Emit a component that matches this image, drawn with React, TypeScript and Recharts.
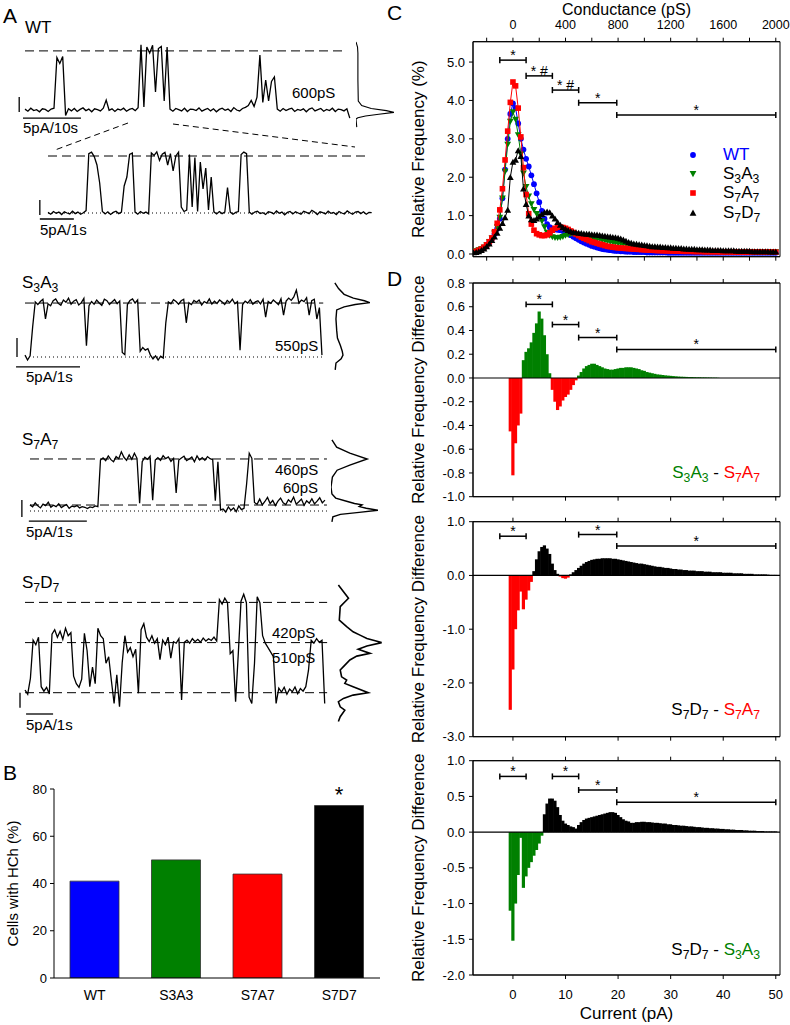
import React from "react";
import {
  LineChart,
  Line,
  XAxis,
  YAxis,
  ReferenceLine,
  ReferenceArea,
  ScatterChart,
  Scatter,
  ComposedChart,
  Bar,
  BarChart,
  Cell,
  LabelList,
} from "recharts";

const FONT = '"Liberation Sans", Arial, Helvetica, sans-serif';
const BLUE = "#0000ff";
const GREEN = "#008000";
const RED = "#ff0000";
const INK = "#000000";

// ---------- A: single-channel traces (pA), sampled every *_DT seconds ----------
const WT_DT = 0.5;
const WT_TRACE = [
  0.3, -0.4, 0.6, -0.2, 0.1, -0.6, 0.4, 0.2, -0.5, 0.3,
  0.6, 17.5, 15.5, 17.8, -1.8, 0.4,
  -0.3, 0.5, -0.5, 0.2, 0.7, -0.2, 0.3, -0.6, 0.4, 0.1, -0.3, 0.6,
  3.3,
  -0.1, 0.4, -0.5, 0.3, 0.0, 0.6, -0.4, 0.2, 0.5, -0.2, 0.8,
  21.7, 1.0, 21.0, 19.0, 21.6, 6.0, 20.5, 21.2, 3.0, 21.0, 0.3,
  -0.4, 0.5, 0.1, -0.3, 0.6, -0.5, 0.3, 0.2, -0.2, 0.7, -0.4, 0.1, 0.5,
  -0.3, 0.4, -0.6, 0.2, 0.6, -0.1, 0.3, -0.5, 0.8, 0.0, -0.3, 0.5, 0.9,
  1.5, 3.2, 1.2, 4.3, 18.3, 2.5, 10.0, 3.0, 9.5, 11.0, 0.3,
  -0.4, 0.5, -0.2, 0.3, 0.6, -0.5, 0.2, -0.1, 0.4, -0.6, 0.3, 0.7,
  -0.3, 0.1, 0.5, -0.4, 0.2, -0.2, 0.6, -0.5, 0.3, 0.1, -0.3, 0.4,
  -2.7,
];

const WTZ_DT = 0.08;
const WTZ_TRACE = [
  0.2, -0.4, 0.5, -0.1, 0.3, -0.5, 0.4, 0.0, -0.3, 0.6, -0.2, 0.3, -0.4, 0.1, 0.8,
  19.8, 20.3, 18.8, 16.0, 10.0, 0.5,
  -0.3, 0.4, -0.5, 0.2, 0.6, -0.2, 0.3,
  9.0, 12.0, 19.5, 20.0, 0.3,
  -0.4, 0.5, -0.1, 0.3, -0.3,
  20.0, 19.2, 20.4, 17.5, 19.6, 20.2, 16.0, 19.8, 14.0, 19.0, 20.3,
  2.0, 0.5, 1.0,
  19.5, 2.0, 18.5, 0.5, 17.0, 8.0, 15.0, 1.0, 12.0, 0.4,
  -0.3, 0.5, -0.2, 0.3,
  8.5, 0.3,
  -0.4, 0.2, 0.5,
  19.5, 20.3, 19.8, 0.3,
  -0.4, 0.3, 0.6, -0.2, 0.1, -0.5, 0.4, 0.2, -0.3, 0.7, -0.1, 0.3, -0.6, 0.2, 0.5,
  -0.3, 0.4, 0.0, -0.4, 0.6, 0.2, -0.2, 0.9, 0.3, -0.5, 0.4, 0.1, -0.3, 0.6, -0.1,
  0.2, -0.5, 0.5, 0.0, -0.3, 0.7, 0.1, -0.4, 0.3, 0.5, -0.2, 0.4, -0.4, 0.2, 0.1,
];

const S3A3_DT = 0.04;
const S3A3_TRACE = [
  0.5, -0.8, 0.3,
  8.0, 14.5,
  13.8, 14.6, 15.2, 10.0, 14.0, 13.5, 14.8, 15.3, 14.1, 13.6, 15.0, 14.4, 15.5, 13.9, 14.7, 15.1, 13.7, 14.3, 15.4,
  3.0, 13.5,
  14.6, 13.9, 15.0, 14.2, 13.6, 15.2, 14.8, 13.8, 14.5, 15.1, 14.0, 14.7,
  1.2, 0.6, 13.8,
  14.9, 15.3, 14.2, 15.0,
  1.5, 2.5, 1.8, 2.2, 0.5, -0.5, 0.3, -0.8, 0.2, -0.3,
  9.0, 14.5,
  14.0, 15.1, 14.6, 13.9, 14.8, 15.2, 9.0, 14.3, 13.8, 14.9, 14.4, 15.0, 13.7, 14.6,
  14.2, 15.3, 13.9, 14.7, 14.1, 15.0, 14.5, 13.8, 14.9, 14.3, 15.2, 14.0, 14.6,
  1.8, 13.8,
  14.7, 14.2, 15.1, 13.9, 14.5, 14.8, 14.0, 15.2, 10.5, 14.6, 14.1, 15.0, 14.4, 13.8, 15.3,
  11.0, 14.7, 15.5, 14.9, 15.8, 17.6, 14.2, 15.0, 14.6, 15.6, 11.0, 14.8, 15.2, 10.0, 13.0,
  0.5,
];

const S7A7_DT = 0.045;
const S7A7_TRACE = [
  1.8, 1.2, 2.4, 1.5, 0.9, 2.0, 1.6, 2.6, 1.1, 1.7, 1.3, 2.1, 1.0, 1.5,
  1.9, 0.8, 1.4, 1.2, 1.6, 0.9, 1.3, 1.1, 0.7, 1.2, 1.0, 1.5, 1.3,
  15.0,
  15.6, 14.8, 16.2, 15.1, 14.5, 16.0, 15.4, 17.4, 15.8, 14.9, 16.5, 15.2, 17.0, 15.5,
  2.3, 14.5,
  15.8, 15.2, 16.1,
  3.2, 15.0,
  15.7, 14.9, 16.3, 15.4, 15.9, 14.6, 15.5,
  5.3, 15.0,
  15.6, 16.1, 14.8, 15.3, 15.9, 14.5, 16.2, 15.0, 15.7, 14.9, 16.0, 15.4, 15.1,
  3.0, 14.5, 0.3,
  0.6, -0.3, 1.2, 0.2, 0.9, -0.2, 1.5, 0.4, 0.8,
  8.0, 17.0, 15.5, 2.5,
  2.0, 3.5, 1.8, 2.8, 4.0, 2.2, 3.1, 1.6, 2.9, 3.8, 2.4, 1.9, 3.3, 2.6,
  4.1, 2.0, 2.7, 3.5, 1.7, 3.0, 2.3, 3.6, 2.1, 2.9, 3.9, 2.4, 3.2,
];

const S7D7_DT = 0.1;
const S7D7_TRACE = [
  0.9, -0.5, 4.8, 17.5, 16.0, 18.5, 2.0, 0.5, 1.8, -0.4,
  19.5, 21.0, 18.5, 20.5, 17.8, 21.5, 19.0, 20.0, 5.5, 3.0,
  1.8, 4.5, 19.8, 14.0, 2.0, 8.5, 3.0, 21.5, 19.0, 18.0,
  9.8, 12.0, 4.0, -3.6, 6.0, -4.7, 10.0, 19.0, 13.5, 15.0,
  12.0, 14.5, -0.2, 21.0, 23.0, 18.5, 17.0, 19.0, 16.5, 18.0,
  11.0, 17.5, 16.0, 18.5, 11.5, 17.0, 16.5, 18.0, -2.4, 16.8,
  17.5, 16.5, 18.0, 17.0, 17.8, 16.8, 18.2, 17.2, 18.0, 17.4,
  18.5, 17.2, 31.0, 29.5, 31.5, 30.0, 13.0, 14.0, -3.0, 13.0,
  30.5, 32.8, 30.0, -1.5, -3.6, 9.8, 32.0, 30.0, 19.0, 16.5,
  15.0, 13.5, 12.0, -3.6, 1.5, 0.2, 1.8, -0.5, 1.2, 0.3,
  1.9, -0.3, 1.4, 0.5, 2.0, 7.5, 17.5, 16.5, 18.0, 16.8,
  17.5, -3.6,
];

// dashed / dotted current levels (pA) for each trace
const WT_LEVELS = [19.7];
const WTZ_LEVELS = [19];
const S3A3_LEVELS = [14.2];
const S7A7_LEVELS = [15.3, 1.76];
const S7D7_LEVELS = [30.1, 16.7, 0];

// all-points histograms: current level (pA) and relative count
const WT_HIST_LEVEL = [22.7, 21, 19, 10, 3, 1.5, 0.5, -0.2, -0.8, -1.4, -2, -2.6, -3, -5.7];
const WT_HIST_COUNT = [0.0, 0.04, 0.05, 0.05, 0.06, 0.15, 0.4, 0.8, 1.0, 0.6, 0.25, 0.05, 0.0, 0.02];
const S3A3_HIST_LEVEL = [19.5, 18, 16.5, 15.5, 14.8, 14.3, 13.8, 13.2, 12.4, 10, 7, 5, 3, 1.5, 0.5, -0.5, -1.6, -3.4];
const S3A3_HIST_COUNT = [0.05, 0.15, 0.3, 0.55, 0.85, 1.0, 0.6, 0.3, 0.1, 0.08, 0.1, 0.12, 0.2, 0.25, 0.27, 0.22, 0.08, 0.06];
const S7A7_HIST_LEVEL = [20.9, 18.8, 17, 15.3, 13.5, 12, 10, 7, 5, 3.8, 2.8, 2.2, 1.8, 1.3, 0.8, 0.2, -0.4, -1, -1.7, -3.2];
const S7A7_HIST_COUNT = [0.02, 0.12, 0.4, 0.77, 0.4, 0.13, 0.03, 0.0, 0.02, 0.1, 0.35, 0.5, 0.66, 0.6, 0.75, 1.0, 0.6, 0.2, 0.04, 0.02];
const S7D7_HIST_LEVEL = [
  35.9, 31.5, 28.7, 24.2, 22, 20.3, 19.2, 18.1, 16.7, 15.6, 14.5, 13.1, 12.2, 10.9,
  8.7, 7.6, 5.3, 4.2, 3.1, 2.0, 0, -0.8, -1.9, -3.0, -4.7, -5.8, -8, -9.6,
];
const S7D7_HIST_COUNT = [
  0.03, 0.25, 0.07, 0.05, 0.21, 0.35, 0.5, 0.65, 0.97, 0.65, 0.46, 0.72, 0.43, 0.28,
  0.14, 0.07, 0.1, 0.21, 0.17, 0.35, 0.68, 0.35, 0.14, 0.03, 0.07, 0.17, 0.07, 0.03,
];

// ---------- B: cells with hemichannels ----------
const B_GROUPS = ["WT", "S3A3", "S7A7", "S7D7"];
const B_PCT = [41, 50, 44, 73];
const B_SIG = ["", "", "", "*"];
const B_COLORS = [BLUE, GREEN, RED, INK];

// ---------- C / D: amplitude histograms, 0.5 pA bins ----------
const CURRENT = [
  -7.5, -7, -6.5, -6, -5.5, -5, -4.5, -4, -3.5, -3,
  -2.5, -2, -1.5, -1, -0.5, 0, 0.5, 1, 1.5, 2,
  2.5, 3, 3.5, 4, 4.5, 5, 5.5, 6, 6.5, 7,
  7.5, 8, 8.5, 9, 9.5, 10, 10.5, 11, 11.5, 12,
  12.5, 13, 13.5, 14, 14.5, 15, 15.5, 16, 16.5, 17,
  17.5, 18, 18.5, 19, 19.5, 20, 20.5, 21, 21.5, 22,
  22.5, 23, 23.5, 24, 24.5, 25, 25.5, 26, 26.5, 27,
  27.5, 28, 28.5, 29, 29.5, 30, 30.5, 31, 31.5, 32,
  32.5, 33, 33.5, 34, 34.5, 35, 35.5, 36, 36.5, 37,
  37.5, 38, 38.5, 39, 39.5, 40, 40.5, 41, 41.5, 42,
  42.5, 43, 43.5, 44, 44.5, 45, 45.5, 46, 46.5, 47,
  47.5, 48, 48.5, 49, 49.5, 50,
];

const WT_FREQ = [
  0.05, 0.07, 0.09, 0.12, 0.16, 0.22, 0.3, 0.4, 0.52, 0.66,
  0.92, 1.45, 2.2, 3.0, 3.65, 3.92, 3.8, 3.4, 3.0, 2.72,
  2.48, 2.28, 2.05, 1.82, 1.58, 1.35, 1.12, 0.92, 0.78, 0.7,
  0.66, 0.64, 0.63, 0.62, 0.6, 0.57, 0.53, 0.49, 0.45, 0.41,
  0.37, 0.33, 0.3, 0.27, 0.24, 0.21, 0.19, 0.17, 0.15, 0.13,
  0.12, 0.11, 0.1, 0.09, 0.08, 0.08, 0.07, 0.07, 0.06, 0.06,
  0.06, 0.05, 0.05, 0.05, 0.05, 0.05, 0.04, 0.04, 0.04, 0.04,
  0.04, 0.04, 0.04, 0.04, 0.03, 0.03, 0.03, 0.03, 0.03, 0.03,
  0.03, 0.03, 0.03, 0.03, 0.03, 0.03, 0.03, 0.03, 0.03, 0.03,
  0.03, 0.03, 0.03, 0.03, 0.03, 0.03, 0.03, 0.03, 0.03, 0.03,
  0.03, 0.03, 0.03, 0.03, 0.03, 0.03, 0.03, 0.03, 0.03, 0.03,
  0.03, 0.03, 0.03, 0.03, 0.03, 0.03,
];
const S3A3_FREQ = [
  0.06, 0.08, 0.1, 0.13, 0.17, 0.23, 0.31, 0.41, 0.54, 0.7,
  0.95, 1.45, 2.15, 2.85, 3.45, 3.7, 3.5, 3.1, 2.6, 2.1,
  1.75, 1.5, 1.3, 1.15, 1.05, 0.98, 0.86, 0.7, 0.56, 0.48,
  0.44, 0.42, 0.42, 0.43, 0.45, 0.48, 0.5, 0.52, 0.52, 0.5,
  0.48, 0.46, 0.45, 0.43, 0.42, 0.41, 0.4, 0.39, 0.38, 0.36,
  0.35, 0.33, 0.32, 0.3, 0.29, 0.28, 0.27, 0.26, 0.25, 0.23,
  0.22, 0.21, 0.2, 0.19, 0.18, 0.17, 0.16, 0.15, 0.14, 0.14,
  0.13, 0.12, 0.12, 0.11, 0.11, 0.1, 0.1, 0.09, 0.09, 0.09,
  0.08, 0.08, 0.08, 0.07, 0.07, 0.07, 0.07, 0.07, 0.06, 0.06,
  0.06, 0.06, 0.06, 0.06, 0.06, 0.05, 0.05, 0.05, 0.05, 0.05,
  0.05, 0.05, 0.05, 0.05, 0.05, 0.05, 0.05, 0.05, 0.05, 0.05,
  0.05, 0.05, 0.05, 0.05, 0.05, 0.05,
];
const S7A7_FREQ = [
  0.05, 0.07, 0.1, 0.13, 0.18, 0.24, 0.32, 0.42, 0.58, 0.8,
  1.15, 1.7, 2.45, 3.2, 3.95, 4.48, 4.38, 3.8, 3.05, 2.25,
  1.55, 1.05, 0.78, 0.62, 0.53, 0.5, 0.48, 0.48, 0.5, 0.55,
  0.62, 0.67, 0.7, 0.7, 0.69, 0.67, 0.64, 0.6, 0.56, 0.52,
  0.48, 0.44, 0.41, 0.38, 0.35, 0.32, 0.3, 0.28, 0.26, 0.24,
  0.22, 0.2, 0.19, 0.18, 0.17, 0.16, 0.155, 0.15, 0.145, 0.14,
  0.135, 0.13, 0.125, 0.12, 0.115, 0.11, 0.105, 0.1, 0.1, 0.095,
  0.09, 0.09, 0.085, 0.085, 0.08, 0.08, 0.08, 0.075, 0.075, 0.075,
  0.07, 0.07, 0.07, 0.07, 0.065, 0.065, 0.065, 0.065, 0.06, 0.06,
  0.06, 0.06, 0.06, 0.06, 0.055, 0.055, 0.055, 0.055, 0.055, 0.05,
  0.05, 0.05, 0.05, 0.05, 0.05, 0.05, 0.05, 0.05, 0.05, 0.05,
  0.05, 0.05, 0.05, 0.05, 0.05, 0.05,
];
const S7D7_FREQ = [
  0.04, 0.05, 0.07, 0.1, 0.14, 0.2, 0.27, 0.36, 0.45, 0.55,
  0.68, 0.8, 0.95, 1.15, 2.0, 2.4, 2.45, 2.7, 2.55, 1.7,
  1.3, 1.0, 0.9, 0.88, 0.92, 0.98, 1.04, 1.08, 1.1, 1.08,
  1.0, 0.92, 0.83, 0.76, 0.7, 0.65, 0.62, 0.59, 0.57, 0.56,
  0.55, 0.54, 0.53, 0.52, 0.52, 0.51, 0.5, 0.5, 0.49, 0.48,
  0.47, 0.46, 0.45, 0.44, 0.43, 0.42, 0.4, 0.37, 0.34, 0.31,
  0.29, 0.27, 0.26, 0.25, 0.24, 0.23, 0.22, 0.21, 0.2, 0.2,
  0.19, 0.19, 0.18, 0.18, 0.17, 0.17, 0.16, 0.16, 0.15, 0.15,
  0.14, 0.14, 0.13, 0.13, 0.13, 0.12, 0.12, 0.12, 0.11, 0.11,
  0.11, 0.1, 0.1, 0.1, 0.1, 0.09, 0.09, 0.09, 0.09, 0.09,
  0.08, 0.08, 0.08, 0.08, 0.08, 0.08, 0.07, 0.07, 0.07, 0.07,
  0.07, 0.07, 0.07, 0.06, 0.06, 0.06,
];

const DIFF_S3A3_S7A7 = [
  0, 0, 0, 0, 0, 0, 0, 0, 0, 0,
  0, 0, 0, 0, -0.45, -0.82, -0.55, -0.4, -0.3, 0.15,
  0.22, 0.25, 0.3, 0.38, 0.46, 0.56, 0.5, 0.36, 0.2, 0.04,
  -0.1, -0.2, -0.27, -0.24, -0.19, -0.16, -0.14, -0.1, -0.06, -0.02,
  0.02, 0.05, 0.08, 0.1, 0.11, 0.12, 0.12, 0.11, 0.1, 0.09,
  0.08, 0.075, 0.07, 0.07, 0.075, 0.08, 0.085, 0.085, 0.09, 0.09,
  0.09, 0.085, 0.08, 0.075, 0.065, 0.06, 0.05, 0.045, 0.04, 0.035,
  0.03, 0.028, 0.025, 0.022, 0.02, 0.018, 0.016, 0.014, 0.012, 0.011,
  0.01, 0.009, 0.008, 0.008, 0.007, 0.006, 0.006, 0.005, 0.005, 0.004,
  0.004, 0.003, 0.003, 0.002, 0, 0, 0, 0, 0, 0,
  0, 0, 0, 0, 0, 0, 0, 0, 0, 0,
  0, 0, 0, 0, 0, 0,
];
const DIFF_S7D7_S7A7 = [
  0, 0, 0, 0, 0, 0, 0, 0, 0, 0,
  0, 0, 0, 0, -2.5, -1.75, -1.0, -0.65, -0.3, -0.63,
  -0.45, -0.28, -0.12, 0.08, 0.3, 0.45, 0.53, 0.56, 0.5, 0.4,
  0.22, 0.1, 0.03, -0.02, -0.05, -0.06, -0.04, 0.02, 0.06, 0.1,
  0.14, 0.18, 0.22, 0.25, 0.27, 0.29, 0.3, 0.31, 0.31, 0.32,
  0.32, 0.32, 0.32, 0.31, 0.31, 0.3, 0.29, 0.28, 0.27, 0.26,
  0.25, 0.24, 0.23, 0.22, 0.22, 0.21, 0.2, 0.19, 0.18, 0.17,
  0.16, 0.16, 0.15, 0.14, 0.14, 0.13, 0.12, 0.12, 0.11, 0.11,
  0.1, 0.1, 0.09, 0.09, 0.09, 0.08, 0.08, 0.08, 0.07, 0.07,
  0.07, 0.06, 0.06, 0.06, 0.06, 0.05, 0.05, 0.05, 0.05, 0.04,
  0.04, 0.04, 0.04, 0.03, 0.03, 0.03, 0.03, 0.02, 0.02, 0.02,
  0.02, 0.02, 0.015, 0.01, 0.01, 0.01,
];
const DIFF_S7D7_S3A3 = [
  0, 0, 0, 0, 0, 0, 0, 0, 0, 0,
  0, 0, 0, 0, -1.1, -1.52, -1.0, -0.6, -0.08, -0.78,
  -0.62, -0.5, -0.42, -0.33, -0.25, -0.16, -0.05, 0.25, 0.4, 0.47,
  0.47, 0.44, 0.35, 0.24, 0.16, 0.12, 0.1, 0.08, 0.07, 0.05,
  0.1, 0.14, 0.17, 0.19, 0.2, 0.21, 0.22, 0.23, 0.24, 0.25,
  0.26, 0.27, 0.28, 0.28, 0.27, 0.24, 0.21, 0.18, 0.16, 0.15,
  0.13, 0.13, 0.14, 0.14, 0.145, 0.145, 0.14, 0.14, 0.135, 0.13,
  0.13, 0.125, 0.12, 0.12, 0.11, 0.11, 0.1, 0.1, 0.095, 0.09,
  0.09, 0.085, 0.08, 0.08, 0.075, 0.07, 0.07, 0.065, 0.06, 0.06,
  0.055, 0.055, 0.05, 0.05, 0.045, 0.045, 0.04, 0.04, 0.035, 0.035,
  0.03, 0.03, 0.03, 0.025, 0.025, 0.02, 0.02, 0.02, 0.015, 0.015,
  0.015, 0.01, 0.01, 0.01, 0.01, 0.01,
];

// significance intervals (pA) with bar height and mark, per panel
const SIG_RANGES: [number, number][] = [[-2.5, 2.5], [2.5, 7.5], [7.5, 12.5], [12.5, 19.75], [19.75, 50]];
const C_SIG = [
  { r: 0, h: 5.05, mark: "*" },
  { r: 1, h: 4.64, mark: "*  #" },
  { r: 2, h: 4.27, mark: "*  #" },
  { r: 3, h: 3.94, mark: "*" },
  { r: 4, h: 3.62, mark: "*" },
];
const D1_SIG = [
  { r: 1, h: 0.62, mark: "*" },
  { r: 2, h: 0.45, mark: "*" },
  { r: 3, h: 0.34, mark: "*" },
  { r: 4, h: 0.24, mark: "*" },
];
const D2_SIG = [
  { r: 0, h: 0.73, mark: "*" },
  { r: 3, h: 0.76, mark: "*" },
  { r: 4, h: 0.55, mark: "*" },
];
const D3_SIG = [
  { r: 0, h: 0.78, mark: "*" },
  { r: 2, h: 0.78, mark: "*" },
  { r: 3, h: 0.59, mark: "*" },
  { r: 4, h: 0.42, mark: "*" },
];

const X_DOMAIN: [number, number] = [-7.6, 50.8];
const PS_PER_PA = 40;

type Layout = { left: number; right: number; top: number; bottom: number; t0: number; pxs: number; y0: number; pxa: number };
const WT_LAYOUT: Layout = { left: 15, right: 352, top: 38, bottom: 134, t0: 25, pxs: 5.8, y0: 110, pxa: 3 };
const WTZ_LAYOUT: Layout = { left: 36, right: 375, top: 145, bottom: 225, t0: 48, pxs: 34, y0: 213, pxa: 3 };
const S3A3_LAYOUT: Layout = { left: 12, right: 326, top: 280, bottom: 372, t0: 25, pxs: 64, y0: 357, pxa: 3.8 };
const S7A7_LAYOUT: Layout = { left: 18, right: 330, top: 437, bottom: 525, t0: 30, pxs: 58, y0: 511, pxa: 3.4 };
const S7D7_LAYOUT: Layout = { left: 16, right: 328, top: 582, bottom: 722, t0: 25, pxs: 27, y0: 692.7, pxa: 3 };

const domainsOf = (l: Layout) => ({
  x: [(l.left - l.t0) / l.pxs, (l.right - l.t0) / l.pxs] as [number, number],
  y: [(l.y0 - l.bottom) / l.pxa, (l.y0 - l.top) / l.pxa] as [number, number],
});

const NO_MARGIN = { top: 0, right: 0, bottom: 0, left: 0 };

type Bar5 = { t: number; y: number };
function Trace(props: {
  lay: Layout;
  values: number[];
  dt: number;
  dashed: number[];
  dotted?: number[];
  tEnd: number;
  dotFrom?: number;
  vBar: Bar5;
  hBar: Bar5 & { len: number };
}) {
  const { lay, values, dt, dashed, dotted = [], tEnd, dotFrom = 0, vBar, hBar } = props;
  const d = domainsOf(lay);
  const rows = values.map((v, i) => ({ t: i * dt, v }));
  return (
    <div style={{ position: "absolute", left: lay.left, top: lay.top }}>
      <LineChart width={lay.right - lay.left} height={lay.bottom - lay.top} data={rows} margin={NO_MARGIN}>
        <XAxis type="number" dataKey="t" domain={d.x} hide allowDataOverflow />
        <YAxis type="number" domain={d.y} hide allowDataOverflow />
        {dashed.map((y) => (
          <ReferenceLine key={"d" + y} segment={[{ x: 0, y }, { x: tEnd, y }]} stroke={INK} strokeWidth={1} strokeDasharray="9 5" />
        ))}
        {dotted.map((y) => (
          <ReferenceLine key={"o" + y} segment={[{ x: dotFrom, y }, { x: tEnd, y }]} stroke={INK} strokeWidth={1} strokeDasharray="1 3" />
        ))}
        <ReferenceLine segment={[{ x: vBar.t, y: vBar.y }, { x: vBar.t, y: vBar.y + 5 }]} stroke={INK} strokeWidth={1.3} />
        <ReferenceLine segment={[{ x: hBar.t, y: hBar.y }, { x: hBar.t + hBar.len, y: hBar.y }]} stroke={INK} strokeWidth={1.3} />
        <Line type="linear" dataKey="v" stroke={INK} strokeWidth={1.3} dot={false} isAnimationActive={false} />
      </LineChart>
    </div>
  );
}

function Hist(props: { lay: Layout; left: number; width: number; levels: number[]; counts: number[]; sw: number }) {
  const { lay, left, width, levels, counts, sw } = props;
  const d = domainsOf(lay);
  const rows = levels.map((v, i) => ({ c: counts[i], v }));
  return (
    <div style={{ position: "absolute", left, top: lay.top }}>
      <LineChart width={width} height={lay.bottom - lay.top} data={rows} margin={NO_MARGIN}>
        <XAxis type="number" dataKey="c" domain={[0, 1]} hide allowDataOverflow />
        <YAxis type="number" domain={d.y} hide allowDataOverflow />
        <Line type="linear" dataKey="v" stroke={INK} strokeWidth={sw} dot={false} isAnimationActive={false} />
      </LineChart>
    </div>
  );
}

function Txt(props: { x?: number; right?: number; y: number; size?: number; color?: string; children: React.ReactNode }) {
  const { x, right, y, size = 15, color = INK, children } = props;
  const style: React.CSSProperties = {
    position: "absolute",
    top: y - size * 0.59,
    fontSize: size,
    lineHeight: `${size * 1.2}px`,
    color,
    whiteSpace: "nowrap",
  };
  if (right !== undefined) style.right = 790 - right;
  else style.left = x;
  return <div style={style}>{children}</div>;
}

const Sub = ({ n }: { n: string }) => (
  <span style={{ fontSize: "0.72em", position: "relative", top: "0.32em" }}>{n}</span>
);
const Mut = ({ a, n, b, m }: { a: string; n: string; b: string; m: string }) => (
  <>
    {a}
    <Sub n={n} />
    {b}
    <Sub n={m} />
  </>
);

// scatter symbols
const circleShape = (p: any) => <circle cx={p.cx} cy={p.cy} r={2.9} fill={BLUE} />;
const downShape = (p: any) => (
  <polygon points={`${p.cx - 3.4},${p.cy - 2.8} ${p.cx + 3.4},${p.cy - 2.8} ${p.cx},${p.cy + 3.2}`} fill={GREEN} />
);
const squareShape = (p: any) => <rect x={p.cx - 2.8} y={p.cy - 2.8} width={5.6} height={5.6} fill={RED} />;
const upShape = (p: any) => (
  <polygon points={`${p.cx - 3.4},${p.cy + 2.8} ${p.cx + 3.4},${p.cy + 2.8} ${p.cx},${p.cy - 3.2}`} fill={INK} />
);

// difference bars, drawn slightly wider so neighbouring bins touch
const binShape = (p: any) => {
  const h = p.height || 0;
  const y = h < 0 ? p.y + h : p.y;
  return <rect x={p.x - 0.35} y={y} width={(p.width || 0) + 0.7} height={Math.abs(h)} fill={p.fill} />;
};

const sigMarks = (list: { r: number; h: number; mark: string }[], cap: number) =>
  list.flatMap((s, i) => {
    const [lo, hi] = SIG_RANGES[s.r];
    return [
      <ReferenceLine
        key={"h" + i}
        segment={[{ x: lo, y: s.h }, { x: hi, y: s.h }]}
        stroke={INK}
        strokeWidth={1.5}
        label={{ value: s.mark, position: "top", offset: 0, fontSize: 14, fill: INK, style: { whiteSpace: "pre" } }}
      />,
      <ReferenceLine key={"l" + i} segment={[{ x: lo, y: s.h - cap }, { x: lo, y: s.h + cap }]} stroke={INK} strokeWidth={1.5} />,
      <ReferenceLine key={"r" + i} segment={[{ x: hi, y: s.h - cap }, { x: hi, y: s.h + cap }]} stroke={INK} strokeWidth={1.5} />,
    ];
  });

const axisText = { fontSize: 13, fill: INK };
const yLabel = (value: string, offset: number, size = 17) => ({
  value,
  angle: -90,
  position: "insideLeft" as const,
  offset,
  style: { textAnchor: "middle" as const, fontSize: size, fill: INK },
});

function DiffPanel(props: {
  top: number;
  height: number;
  topH: number;
  bottomH: number;
  values: number[];
  yDomain: [number, number];
  yTicks: number[];
  pos: string;
  neg: string;
  sig: { r: number; h: number; mark: string }[];
  cap: number;
  showX: boolean;
}) {
  const { top, height, topH, bottomH, values, yDomain, yTicks, pos, neg, sig, cap, showX } = props;
  const rows = CURRENT.map((c, i) => ({ c, v: values[i] }));
  return (
    <div style={{ position: "absolute", left: 400, top }}>
      <ComposedChart width={390} height={height} data={rows} margin={{ top: 0, right: 10, bottom: 0, left: 0 }}>
        <XAxis
          xAxisId="top"
          orientation="top"
          type="number"
          dataKey="c"
          domain={X_DOMAIN}
          ticks={[0, 10, 20, 30, 40, 50]}
          tickFormatter={() => ""}
          height={topH}
          tickSize={4}
          stroke={INK}
          allowDataOverflow
        />
        <XAxis
          type="number"
          dataKey="c"
          domain={X_DOMAIN}
          ticks={[0, 10, 20, 30, 40, 50]}
          tickFormatter={showX ? (v: number) => String(v) : () => ""}
          height={bottomH}
          tickSize={4}
          tickMargin={11}
          tick={axisText}
          stroke={INK}
          allowDataOverflow
          label={
            showX
              ? { value: "Current (pA)", position: "insideBottom", offset: 6, style: { fontSize: 17, fill: INK } }
              : undefined
          }
        />
        <YAxis
          type="number"
          domain={yDomain}
          ticks={yTicks}
          tickFormatter={(v: number) => v.toFixed(1)}
          width={73}
          tickSize={4}
          tickMargin={4}
          tick={axisText}
          stroke={INK}
          allowDataOverflow
          label={yLabel("Relative Frequency Difference", 18)}
        />
        <ReferenceArea x1={X_DOMAIN[0]} x2={X_DOMAIN[1]} y1={yDomain[0]} y2={yDomain[1]} fill="none" stroke={INK} strokeWidth={1} />
        <Bar dataKey="v" barSize={2.5} shape={binShape} isAnimationActive={false}>
          {rows.map((r, i) => (
            <Cell key={i} fill={r.v >= 0 ? pos : neg} />
          ))}
        </Bar>
        <ReferenceLine y={0} stroke={INK} strokeWidth={1.2} />
        {sigMarks(sig, cap)}
      </ComposedChart>
    </div>
  );
}

export default function App() {
  const pts = (vals: number[]) => CURRENT.map((c, i) => ({ c, v: vals[i] }));
  const bRows = B_GROUPS.map((name, i) => ({ name, pct: B_PCT[i], sig: B_SIG[i] }));
  const cYDomain: [number, number] = [-0.07, 5.53];

  return (
    <div
      style={{
        position: "absolute",
        left: 0,
        top: 0,
        width: 790,
        height: 1025,
        overflow: "hidden",
        background: "#fff",
        fontFamily: FONT,
      }}
    >
      {/* ---------------- A ---------------- */}
      <Trace
        lay={WT_LAYOUT}
        values={WT_TRACE}
        dt={WT_DT}
        dashed={WT_LEVELS}
        tEnd={55.5}
        vBar={{ t: -1.0, y: -0.7 }}
        hBar={{ t: -0.35, y: -2.7, len: 10 }}
      />
      <Hist lay={WT_LAYOUT} left={356} width={38} levels={WT_HIST_LEVEL} counts={WT_HIST_COUNT} sw={1.1} />
      <svg width={400} height={160} style={{ position: "absolute", left: 0, top: 0 }}>
        <line x1={128} y1={123} x2={55} y2={150} stroke={INK} strokeWidth={1} strokeDasharray="6 4" />
        <line x1={173} y1={124} x2={355} y2={147} stroke={INK} strokeWidth={1} strokeDasharray="6 4" />
      </svg>
      <Trace
        lay={WTZ_LAYOUT}
        values={WTZ_TRACE}
        dt={WTZ_DT}
        dashed={WTZ_LEVELS}
        dotted={[0]}
        tEnd={9.41}
        vBar={{ t: -0.24, y: -0.7 }}
        hBar={{ t: -0.24, y: -2.0, len: 1 }}
      />
      <Trace
        lay={S3A3_LAYOUT}
        values={S3A3_TRACE}
        dt={S3A3_DT}
        dashed={S3A3_LEVELS}
        dotted={[0]}
        dotFrom={0.125}
        tEnd={4.66}
        vBar={{ t: -0.125, y: 0 }}
        hBar={{ t: -0.14, y: -2.6, len: 1 }}
      />
      <Hist lay={S3A3_LAYOUT} left={333} width={37} levels={S3A3_HIST_LEVEL} counts={S3A3_HIST_COUNT} sw={1.4} />
      <Trace
        lay={S7A7_LAYOUT}
        values={S7A7_TRACE}
        dt={S7A7_DT}
        dashed={S7A7_LEVELS}
        dotted={[0]}
        tEnd={5.12}
        vBar={{ t: -0.14, y: -1.75 }}
        hBar={{ t: -0.02, y: -2.95, len: 1 }}
      />
      <Hist lay={S7A7_LAYOUT} left={331} width={47} levels={S7A7_HIST_LEVEL} counts={S7A7_HIST_COUNT} sw={1.4} />
      <Trace
        lay={S7D7_LAYOUT}
        values={S7D7_TRACE}
        dt={S7D7_DT}
        dashed={S7D7_LEVELS}
        tEnd={11.19}
        vBar={{ t: -0.185, y: -5 }}
        hBar={{ t: 0.04, y: -7.1, len: 1 }}
      />
      <Hist lay={S7D7_LAYOUT} left={337} width={46} levels={S7D7_HIST_LEVEL} counts={S7D7_HIST_COUNT} sw={1.6} />

      {/* ---------------- B ---------------- */}
      <div style={{ position: "absolute", left: 0, top: 780 }}>
        <BarChart width={382} height={240} data={bRows} margin={{ top: 9, right: 2, bottom: 0, left: 0 }}>
          <XAxis dataKey="name" tickLine={false} height={42} tickMargin={6} tick={{ fontSize: 14, fill: INK }} stroke={INK} />
          <YAxis
            type="number"
            domain={[0, 80]}
            ticks={[0, 20, 40, 60, 80]}
            width={54}
            tickSize={4}
            tickMargin={3}
            tick={axisText}
            stroke={INK}
            allowDataOverflow
            label={yLabel("Cells with HCh (%)", 13, 15)}
          />
          <Bar dataKey="pct" barSize={49} stroke="#333" strokeWidth={0.8} isAnimationActive={false}>
            {bRows.map((r, i) => (
              <Cell key={r.name} fill={B_COLORS[i]} />
            ))}
            <LabelList dataKey="sig" position="top" offset={4} fontSize={22} fill={INK} stroke="none" />
          </Bar>
        </BarChart>
      </div>

      {/* ---------------- C ---------------- */}
      <div style={{ position: "absolute", left: 400, top: 0 }}>
        <ScatterChart width={390} height={270} margin={{ top: 0, right: 10, bottom: 0, left: 0 }}>
          <XAxis
            xAxisId="top"
            orientation="top"
            type="number"
            dataKey="c"
            domain={X_DOMAIN}
            ticks={[-5, 0, 5, 10, 15, 20, 25, 30, 35, 40, 45, 50]}
            tickFormatter={(v: number) => (v >= 0 && v % 10 === 0 ? String(v * PS_PER_PA) : "")}
            height={41.7}
            tickSize={4}
            tickMargin={8.5}
            tick={{ fontSize: 12.5, fill: INK }}
            stroke={INK}
            allowDataOverflow
            label={{ value: "Conductance (pS)", position: "insideTop", offset: 3.5, style: { fontSize: 16, fill: INK } }}
          />
          <XAxis
            type="number"
            dataKey="c"
            domain={X_DOMAIN}
            ticks={[-5, 0, 5, 10, 15, 20, 25, 30, 35, 40, 45, 50]}
            tickFormatter={() => ""}
            height={13.3}
            tickSize={4}
            stroke={INK}
            allowDataOverflow
          />
          <YAxis
            type="number"
            dataKey="v"
            domain={cYDomain}
            ticks={[0, 1, 2, 3, 4, 5]}
            tickFormatter={(v: number) => v.toFixed(1)}
            width={73}
            tickSize={4}
            tickMargin={4}
            tick={axisText}
            stroke={INK}
            allowDataOverflow
            label={yLabel("Relative Frequency (%)", 18)}
          />
          <ReferenceArea x1={X_DOMAIN[0]} x2={X_DOMAIN[1]} y1={cYDomain[0]} y2={cYDomain[1]} fill="none" stroke={INK} strokeWidth={1} />
          <Scatter data={pts(WT_FREQ)} fill={BLUE} shape={circleShape} line={{ stroke: BLUE, strokeWidth: 1 }} isAnimationActive={false} />
          <Scatter data={pts(S3A3_FREQ)} fill={GREEN} shape={downShape} line={{ stroke: GREEN, strokeWidth: 1 }} isAnimationActive={false} />
          <Scatter data={pts(S7A7_FREQ)} fill={RED} shape={squareShape} line={{ stroke: RED, strokeWidth: 1 }} isAnimationActive={false} />
          <Scatter data={pts(S7D7_FREQ)} fill={INK} shape={upShape} line={{ stroke: INK, strokeWidth: 1 }} isAnimationActive={false} />
          {sigMarks(C_SIG, 0.08)}
        </ScatterChart>
      </div>

      {/* ---------------- D ---------------- */}
      <DiffPanel
        top={270}
        height={240}
        topH={13}
        bottomH={13.3}
        values={DIFF_S3A3_S7A7}
        yDomain={[-1, 0.8]}
        yTicks={[-1, -0.8, -0.6, -0.4, -0.2, 0, 0.2, 0.4, 0.6, 0.8]}
        pos={GREEN}
        neg={RED}
        sig={D1_SIG}
        cap={0.025}
        showX={false}
      />
      <DiffPanel
        top={509}
        height={240}
        topH={12.7}
        bottomH={12.3}
        values={DIFF_S7D7_S7A7}
        yDomain={[-3, 1]}
        yTicks={[-3, -2, -1, 0, 1]}
        pos={INK}
        neg={RED}
        sig={D2_SIG}
        cap={0.056}
        showX={false}
      />
      <DiffPanel
        top={748}
        height={277}
        topH={12.7}
        bottomH={50}
        values={DIFF_S7D7_S3A3}
        yDomain={[-2, 1]}
        yTicks={[-2, -1.5, -1, -0.5, 0, 0.5, 1]}
        pos={INK}
        neg={GREEN}
        sig={D3_SIG}
        cap={0.042}
        showX={true}
      />

      {/* ---------------- text ---------------- */}
      <Txt x={3} y={15} size={21}>A</Txt>
      <Txt x={3} y={772} size={21}>B</Txt>
      <Txt x={387} y={12} size={21}>C</Txt>
      <Txt x={387} y={278} size={21}>D</Txt>

      <Txt x={25} y={28} size={17}>WT</Txt>
      <Txt x={292} y={93}>600pS</Txt>
      <Txt x={23} y={128}>5pA/10s</Txt>
      <Txt x={40} y={230}>5pA/1s</Txt>
      <Txt x={22} y={283} size={17}><Mut a="S" n="3" b="A" m="3" /></Txt>
      <Txt x={275} y={346}>550pS</Txt>
      <Txt x={26} y={377}>5pA/1s</Txt>
      <Txt x={22} y={440} size={17}><Mut a="S" n="7" b="A" m="7" /></Txt>
      <Txt x={275} y={470}>460pS</Txt>
      <Txt x={283} y={488}>60pS</Txt>
      <Txt x={26} y={532}>5pA/1s</Txt>
      <Txt x={22} y={583} size={17}><Mut a="S" n="7" b="D" m="7" /></Txt>
      <Txt x={272} y={633}>420pS</Txt>
      <Txt x={272} y={658}>510pS</Txt>
      <Txt x={26} y={725}>5pA/1s</Txt>

      {/* C legend */}
      <svg width={14} height={80} style={{ position: "absolute", left: 686, top: 148 }}>
        <circle cx={7} cy={7} r={2.9} fill={BLUE} />
        <polygon points="3.6,23 10.4,23 7,29.2" fill={GREEN} />
        <rect x={4.2} y={42.2} width={5.6} height={5.6} fill={RED} />
        <polygon points="3.6,67.8 10.4,67.8 7,61.6" fill={INK} />
      </svg>
      <Txt x={723} y={155} size={17} color={BLUE}>WT</Txt>
      <Txt x={723} y={174} size={17}><Mut a="S" n="3" b="A" m="3" /></Txt>
      <Txt x={723} y={193} size={17}><Mut a="S" n="7" b="A" m="7" /></Txt>
      <Txt x={723} y={213} size={17}><Mut a="S" n="7" b="D" m="7" /></Txt>

      {/* D labels */}
      <Txt right={760} y={473} size={17}>
        <span style={{ color: GREEN }}><Mut a="S" n="3" b="A" m="3" /></span>
        {" - "}
        <span style={{ color: RED }}><Mut a="S" n="7" b="A" m="7" /></span>
      </Txt>
      <Txt right={760} y={710} size={17}>
        <Mut a="S" n="7" b="D" m="7" />
        {" - "}
        <span style={{ color: RED }}><Mut a="S" n="7" b="A" m="7" /></span>
      </Txt>
      <Txt right={760} y={950} size={17}>
        <Mut a="S" n="7" b="D" m="7" />
        {" - "}
        <span style={{ color: GREEN }}><Mut a="S" n="3" b="A" m="3" /></span>
      </Txt>
    </div>
  );
}
